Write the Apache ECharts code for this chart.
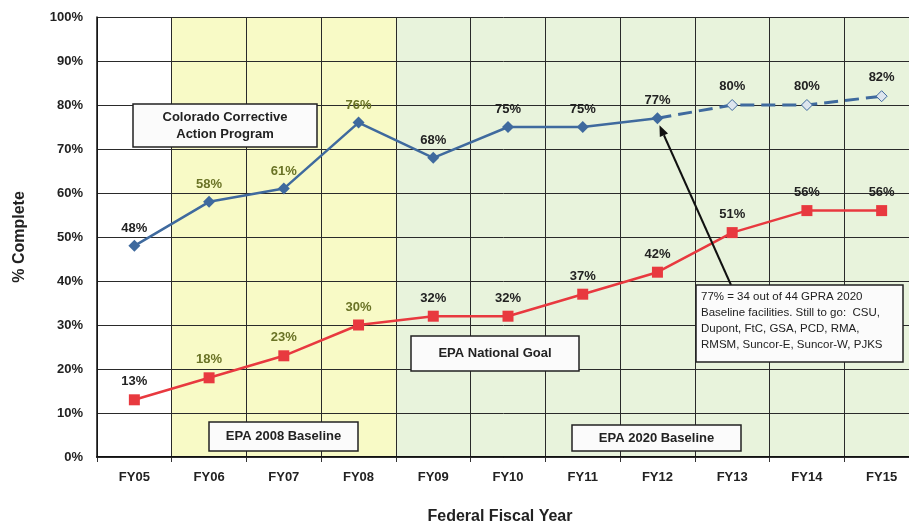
<!DOCTYPE html>
<html>
<head>
<meta charset="utf-8">
<script src="https://cdn.jsdelivr.net/npm/echarts@6/dist/echarts.min.js"></script>
<style>
  html, body { margin: 0; padding: 0; background: #fff; }
  #main { width: 909px; height: 525px; }
</style>
</head>
<body>
<div id="main"></div>
<script>
// fiscal years on the x axis
var categories = ['FY05', 'FY06', 'FY07', 'FY08', 'FY09', 'FY10', 'FY11', 'FY12', 'FY13', 'FY14', 'FY15'];
// Colorado Corrective Action Program, actual then projected (%)
var coloradoActual = [48, 58, 61, 76, 68, 75, 75, 77, null, null, null];
var coloradoProjected = [null, null, null, null, null, null, null, 77, 80, 80, 82];
// EPA National Goal (%)
var epaGoal = [13, 18, 23, 30, 32, 32, 37, 42, 51, 56, 56];
// y axis ticks
var yMin = 0, yMax = 100, yStep = 10;
// which years fall in the 2008 baseline band
var baseline2008 = ['FY06', 'FY07', 'FY08'];

var FONT = '"Liberation Sans", Arial, sans-serif';
var BLUE = '#3f6a9e';
var RED = '#e8393f';
var YELLOW = '#f8fac6';
var GREEN = '#e8f3dc';

function labelColor(i) {
  return baseline2008.indexOf(categories[i]) >= 0 ? '#6a7326' : '#222';
}
function withLabels(arr) {
  return arr.map(function (v, i) {
    if (v == null) return null;
    return { value: v, label: { color: labelColor(i) } };
  });
}

var bandColors = categories.map(function (c, i) {
  if (i === 0) return '#ffffff';
  return baseline2008.indexOf(c) >= 0 ? YELLOW : GREEN;
});

function box(x, y, w, h, lines, opts) {
  opts = opts || {};
  return [
    { type: 'rect', z: 100, shape: { x: x, y: y, width: w, height: h },
      style: { fill: '#fbfbfb', stroke: '#222', lineWidth: 1.5 } },
    { type: 'text', z: 101,
      x: opts.left ? x + 5 : x + w / 2, y: opts.top != null ? y + opts.top : y + h / 2,
      style: {
        text: lines.join('\n'),
        font: (opts.normal ? '' : 'bold ') + (opts.size || 13) + 'px ' + FONT,
        fill: '#222',
        align: opts.left ? 'left' : 'center',
        verticalAlign: opts.top != null ? 'top' : 'middle',
        lineHeight: opts.lineHeight || 17
      } }
  ];
}

var chart = echarts.init(document.getElementById('main'));
var option = {
  animation: false,
  backgroundColor: '#ffffff',
  grid: { left: 97, top: 17, width: 822, height: 440, outerBoundsMode: 'none', containLabel: false },
  xAxis: {
    type: 'category',
    data: categories,
    boundaryGap: true,
    z: 1,
    name: 'Federal Fiscal Year',
    nameLocation: 'middle',
    nameGap: 52,
    nameTextStyle: { fontFamily: FONT, fontWeight: 'bold', fontSize: 16, color: '#222', padding: [0, 16, 0, 0] },
    axisLine: { lineStyle: { color: '#111', width: 2 } },
    axisTick: { show: true, length: 5, lineStyle: { color: '#333' } },
    axisLabel: { fontFamily: FONT, fontWeight: 'bold', fontSize: 13, color: '#222', margin: 14 },
    splitLine: { show: true, lineStyle: { color: '#2a2a2a', width: 1 } },
    splitArea: { show: true, areaStyle: { color: bandColors } }
  },
  yAxis: {
    type: 'value',
    min: yMin, max: yMax, interval: yStep,
    z: 2,
    name: '% Complete',
    nameLocation: 'middle',
    nameGap: 69,
    nameTextStyle: { fontFamily: FONT, fontWeight: 'bold', fontSize: 16, color: '#222' },
    axisLine: { show: true, lineStyle: { color: '#111', width: 1.5 } },
    axisTick: { show: false },
    axisLabel: { fontFamily: FONT, fontWeight: 'bold', fontSize: 13, color: '#222', margin: 14,
      formatter: '{value}%' },
    splitLine: { show: true, lineStyle: { color: '#2a2a2a', width: 1 } }
  },
  series: [
    {
      name: 'Colorado Corrective Action Program',
      type: 'line',
      data: withLabels(coloradoActual),
      symbol: 'diamond', symbolSize: 12,
      lineStyle: { color: BLUE, width: 2.5 },
      itemStyle: { color: BLUE },
      label: { show: true, position: 'top', distance: 5, formatter: '{c}%',
        fontFamily: FONT, fontWeight: 'bold', fontSize: 13 },
      z: 5
    },
    {
      name: 'Colorado projected',
      type: 'line',
      data: withLabels(coloradoProjected).map(function (d, i) {
        if (d && i === 7) { d.symbol = 'none'; d.label = { show: false }; }
        return d;
      }),
      symbol: 'diamond', symbolSize: 11,
      lineStyle: { color: BLUE, width: 3, type: [14, 7] },
      itemStyle: { color: '#dde5ee', borderColor: BLUE, borderWidth: 1 },
      label: { show: true, position: 'top', distance: 6, formatter: '{c}%',
        fontFamily: FONT, fontWeight: 'bold', fontSize: 13 },
      z: 4
    },
    {
      name: 'EPA National Goal',
      type: 'line',
      data: withLabels(epaGoal),
      symbol: 'rect', symbolSize: 11,
      lineStyle: { color: RED, width: 2.5 },
      itemStyle: { color: RED },
      label: { show: true, position: 'top', distance: 6, formatter: '{c}%',
        fontFamily: FONT, fontWeight: 'bold', fontSize: 13 },
      z: 5
    }
  ]
};
chart.setOption(option);

// annotation boxes and the arrow from the callout to the FY12 point
var p = chart.convertToPixel({ xAxisIndex: 0, yAxisIndex: 0 }, ['FY12', coloradoActual[7]]);
var tail = [731, 285];
var tip = [p[0] + 2, p[1] + 7];
var ang = Math.atan2(tip[1] - tail[1], tip[0] - tail[0]);
var hl = 11, hw = 4.5;
var base = [tip[0] - hl * Math.cos(ang), tip[1] - hl * Math.sin(ang)];

var graphics = [].concat(
  box(133, 104, 184, 43, ['Colorado Corrective', 'Action Program']),
  box(411, 336, 168, 35, ['EPA National Goal']),
  box(209, 422, 149, 29, ['EPA 2008 Baseline']),
  box(572, 425, 169, 26, ['EPA 2020 Baseline']),
  box(696, 285, 207, 77, ['77% = 34 out of 44 GPRA 2020', 'Baseline facilities. Still to go:  CSU,',
    'Dupont, FtC, GSA, PCD, RMA,', 'RMSM, Suncor-E, Suncor-W, PJKS'],
    { normal: true, size: 11.5, left: true, top: 4, lineHeight: 16 }),
  [
    { type: 'line', z: 90, shape: { x1: tail[0], y1: tail[1], x2: base[0], y2: base[1] },
      style: { stroke: '#111', lineWidth: 2 } },
    { type: 'polygon', z: 90, shape: { points: [
      tip,
      [base[0] + hw * Math.sin(ang), base[1] - hw * Math.cos(ang)],
      [base[0] - hw * Math.sin(ang), base[1] + hw * Math.cos(ang)]
    ] }, style: { fill: '#111' } }
  ]
);
chart.setOption({ graphic: graphics });
</script>
</body>
</html>
